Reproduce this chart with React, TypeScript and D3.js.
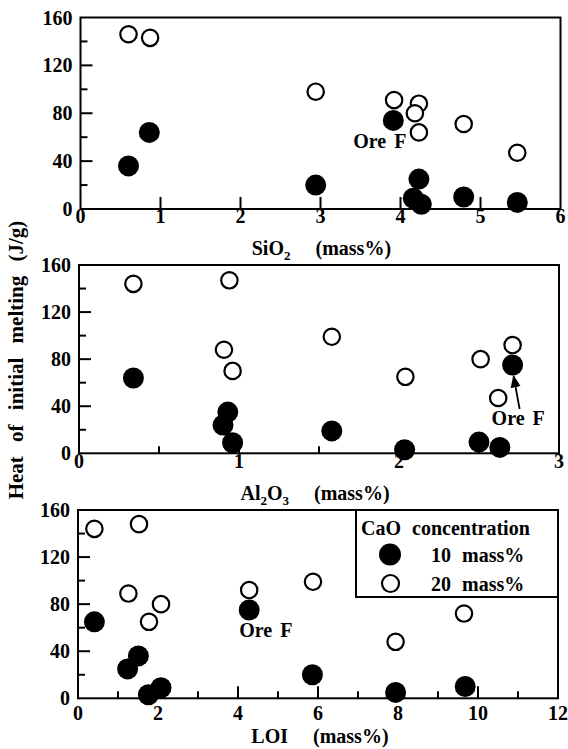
import React from 'react'
import * as d3 from 'd3'

// Heat of initial melting (J/g)
// filled circles = CaO 10 mass%, open circles = CaO 20 mass%

// SiO2 panel
const sio2Filled = [0.6, 0.86, 2.94, 3.91, 4.23, 4.16, 4.26, 4.79, 5.46]
const heatSio2Filled = [36, 64, 20, 74, 25, 9, 4, 10, 5.5]
const sio2Open = [0.6, 0.87, 2.94, 3.92, 4.23, 4.18, 4.23, 4.79, 5.46]
const heatSio2Open = [146, 143, 98, 91, 88, 80, 64, 71, 47]

// Al2O3 panel
const al2o3Filled = [0.34, 0.93, 0.9, 0.96, 1.58, 2.035, 2.5, 2.63, 2.71]
const heatAl2o3Filled = [64, 35, 24, 9, 19, 3, 9.5, 5, 75]
const al2o3Open = [0.34, 0.94, 0.906, 0.96, 1.58, 2.04, 2.51, 2.71, 2.62]
const heatAl2o3Open = [144, 147, 88, 70, 99, 65, 80, 92, 47]

// LOI panel
const loiFilled = [0.41, 1.24, 1.51, 1.76, 2.075, 4.28, 5.86, 7.94, 9.68]
const heatLoiFilled = [65, 25, 36, 3, 9, 75, 20, 5, 10]
const loiOpen = [0.41, 1.525, 1.26, 1.775, 2.075, 4.28, 5.875, 7.94, 9.65]
const heatLoiOpen = [144, 148, 89, 65, 80, 92, 99, 48, 72]

const yTicksMajor = [0, 40, 80, 120, 160]
const yTicksMinor = [20, 60, 100, 140]

const legendTitle = 'CaO concentration'
const legendLabels = ['10 mass%', '20 mass%']

const FONT = '"Liberation Serif", "Times New Roman", serif'
const R_FILLED = 10.5
const R_OPEN = 8.2

type PanelProps = {
  left: number
  right: number
  top: number
  bottom: number
  xMax: number
  xLabels: number[]
  xMajor: number[]
  xMinor: number[]
  labelY: number
  filledX: number[]
  filledY: number[]
  openX: number[]
  openY: number[]
  title: React.ReactNode
  titleY: number
  children?: (x: d3.ScaleLinear<number, number>, y: d3.ScaleLinear<number, number>) => React.ReactNode
}

const Panel = (p: PanelProps) => {
  const x = d3.scaleLinear().domain([0, p.xMax]).range([p.left, p.right])
  const y = d3.scaleLinear().domain([0, 160]).range([p.bottom, p.top])
  const cx = (p.left + p.right) / 2

  return (
    <g>
      <rect x={p.left} y={p.top} width={p.right - p.left} height={p.bottom - p.top}
        fill="none" stroke="#000" strokeWidth={2} />
      {/* y ticks, inward */}
      {yTicksMajor.slice(1, -1).map((t) => (
        <line key={'ym' + t} x1={p.left} x2={p.left + 12} y1={y(t)} y2={y(t)} stroke="#000" strokeWidth={2} />
      ))}
      {yTicksMinor.map((t) => (
        <line key={'yn' + t} x1={p.left} x2={p.left + 7} y1={y(t)} y2={y(t)} stroke="#000" strokeWidth={2} />
      ))}
      {yTicksMajor.map((t) => (
        <text key={'yl' + t} x={p.left - 8} y={y(t)} dy="0.35em" textAnchor="end">{t}</text>
      ))}
      {/* x ticks, inward */}
      {p.xMajor.map((t) => (
        <line key={'xm' + t} x1={x(t)} x2={x(t)} y1={p.bottom} y2={p.bottom - 12} stroke="#000" strokeWidth={2} />
      ))}
      {p.xMinor.map((t) => (
        <line key={'xn' + t} x1={x(t)} x2={x(t)} y1={p.bottom} y2={p.bottom - 7} stroke="#000" strokeWidth={2} />
      ))}
      {p.xLabels.map((t) => (
        <text key={'xl' + t} x={x(t)} y={p.labelY} textAnchor="middle">{t}</text>
      ))}
      {/* axis title */}
      <text x={cx - 30} y={p.titleY} textAnchor="end">{p.title}</text>
      <text x={cx - 5} y={p.titleY} textAnchor="start">(mass%)</text>
      {/* open circles first, filled on top */}
      {p.openX.map((v, i) => (
        <circle key={'o' + i} cx={x(v)} cy={y(p.openY[i])} r={R_OPEN} fill="#fff" stroke="#000" strokeWidth={2.2} />
      ))}
      {p.filledX.map((v, i) => (
        <circle key={'f' + i} cx={x(v)} cy={y(p.filledY[i])} r={R_FILLED} fill="#000" />
      ))}
      {p.children && p.children(x, y)}
    </g>
  )
}

const sub = (s: string) => (
  <tspan fontSize={13} dy={5}>{s}</tspan>
)

const App = () => {
  return (
    <svg width={568} height={749} style={{ position: 'absolute', left: 0, top: 0, background: '#fff' }}>
      <defs>
        <marker id="arrow" viewBox="0 0 10 10" refX={9} refY={5} markerWidth={7} markerHeight={7} orient="auto">
          <path d="M0,1 L10,5 L0,9 Z" fill="#000" />
        </marker>
      </defs>

      <g fontFamily={FONT} fontSize={20} fontWeight="bold" stroke="none">
        <Panel left={80.5} right={560.5} top={17.5} bottom={209} xMax={6}
          xLabels={[0, 1, 2, 3, 4, 5, 6]} xMajor={[1, 2, 3, 4, 5]} xMinor={[]} labelY={223}
          filledX={sio2Filled} filledY={heatSio2Filled} openX={sio2Open} openY={heatSio2Open}
          title={<>SiO{sub('2')}</>} titleY={255}>
          {(x, y) => (
            <text x={x(3.91) - 40} y={y(74) + 28} wordSpacing={3}>Ore F</text>
          )}
        </Panel>

        <Panel left={79} right={559} top={265} bottom={453.3} xMax={3}
          xLabels={[0, 1, 2, 3]} xMajor={[1, 2]} xMinor={[0.5, 1.5, 2.5]} labelY={468}
          filledX={al2o3Filled} filledY={heatAl2o3Filled} openX={al2o3Open} openY={heatAl2o3Open}
          title={<>Al{sub('2')}<tspan dy={-5}>O</tspan>{sub('3')}</>} titleY={500}>
          {(x, y) => (
            <g>
              <line x1={x(2.71) + 7} y1={y(75) + 44} x2={x(2.71) + 1} y2={y(75) + 11}
                stroke="#000" strokeWidth={1.8} markerEnd="url(#arrow)" />
              <text x={x(2.71) - 21} y={y(75) + 60} wordSpacing={3}>Ore F</text>
            </g>
          )}
        </Panel>

        <Panel left={78} right={558} top={510} bottom={698.3} xMax={12}
          xLabels={[0, 2, 4, 6, 8, 10, 12]} xMajor={[2, 4, 6, 8, 10]} xMinor={[1, 3, 5, 7, 9, 11]} labelY={720}
          filledX={loiFilled} filledY={heatLoiFilled} openX={loiOpen} openY={heatLoiOpen}
          title={<>LOI</>} titleY={743}>
          {(x, y) => (
            <g>
              <text x={x(4.28) - 10} y={y(75) + 27} wordSpacing={3}>Ore F</text>
              {/* legend */}
              <rect x={356} y={510} width={202} height={87} fill="#fff" stroke="#000" strokeWidth={2} />
              <text x={361} y={535} wordSpacing={6}>{legendTitle}</text>
              <circle cx={390} cy={554.5} r={R_FILLED + 0.5} fill="#000" />
              <text x={431} y={562} wordSpacing={6}>{legendLabels[0]}</text>
              <circle cx={390.5} cy={583.5} r={R_OPEN + 0.3} fill="#fff" stroke="#000" strokeWidth={2.2} />
              <text x={431} y={591} wordSpacing={6}>{legendLabels[1]}</text>
            </g>
          )}
        </Panel>

        <text transform="translate(23,360) rotate(-90)" textAnchor="middle" fontSize={21}
          wordSpacing={9}>Heat of initial melting (J/g)</text>
      </g>
    </svg>
  )
}

export default App
